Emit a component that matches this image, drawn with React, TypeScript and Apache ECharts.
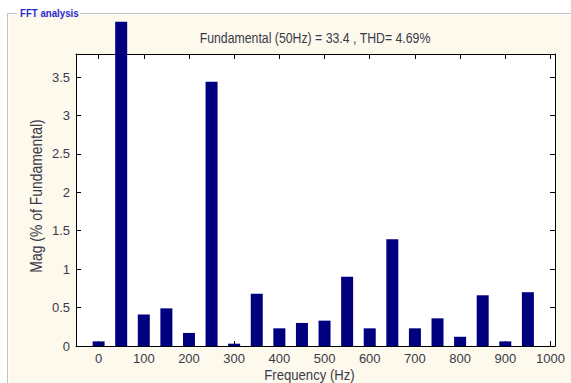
import React, { useEffect, useRef } from "react";
import * as echarts from "echarts";

const frequencies = [0, 50, 100, 150, 200, 250, 300, 350, 400, 450, 500, 550, 600, 650, 700, 750, 800, 850, 900, 950];
const magnitudes = [0.06, 4.22, 0.41, 0.49, 0.17, 3.44, 0.03, 0.68, 0.23, 0.30, 0.33, 0.90, 0.23, 1.39, 0.23, 0.36, 0.12, 0.66, 0.06, 0.70];
const xTicks = [0, 100, 200, 300, 400, 500, 600, 700, 800, 900, 1000];
const yTicks = [0, 0.5, 1, 1.5, 2, 2.5, 3, 3.5];
const titleText = "Fundamental (50Hz) = 33.4 , THD= 4.69%";
const panelTitle = "FFT analysis";
const xName = "Frequency (Hz)";
const yName = "Mag (% of Fundamental)";

export default function App() {
  const ref = useRef<HTMLDivElement>(null);
  useEffect(() => {
    if (!ref.current) return;
    const chart = echarts.init(ref.current, null, { renderer: "svg" });
    const font = "'Liberation Sans', Arial, sans-serif";
    const textColor = "#3a3a4a";
    const xAxisBase = {
      type: "value",
      min: -50,
      max: 1010,
      splitLine: { show: false },
      axisLine: { show: true, onZero: false, lineStyle: { color: "#000", width: 1 } },
      axisTick: { show: true, inside: true, length: 5, customValues: xTicks, lineStyle: { color: "#000" } },
    };
    const yAxisBase = {
      type: "value",
      min: 0,
      max: 3.8,
      splitLine: { show: false },
      axisLine: { show: true, onZero: false, lineStyle: { color: "#000", width: 1 } },
      axisTick: { show: true, inside: true, length: 5, customValues: yTicks, lineStyle: { color: "#000" } },
    };
    chart.setOption({
      animation: false,
      backgroundColor: "#ffffff",
      textStyle: { fontFamily: font },
      graphic: [
        { type: "rect", shape: { x: 7, y: 13, width: 564, height: 370 }, style: { fill: "#fdf9ec" }, z: -10 },
        { type: "line", shape: { x1: 7.5, y1: 13.5, x2: 7.5, y2: 383 }, style: { stroke: "#c4c4c4", lineWidth: 1 } },
        { type: "line", shape: { x1: 7.5, y1: 13.5, x2: 17, y2: 13.5 }, style: { stroke: "#c4c4c4", lineWidth: 1 } },
        { type: "line", shape: { x1: 80, y1: 13.5, x2: 571, y2: 13.5 }, style: { stroke: "#c4c4c4", lineWidth: 1 } },
        { type: "line", shape: { x1: 8.5, y1: 14.5, x2: 8.5, y2: 383 }, style: { stroke: "#ffffff", lineWidth: 1 } },
        { type: "line", shape: { x1: 80, y1: 14.5, x2: 571, y2: 14.5 }, style: { stroke: "#ffffff", lineWidth: 1 } },
        { type: "rect", shape: { x: 76, y: 54, width: 479, height: 292 }, style: { fill: "#ffffff" }, z: -5 },
        {
          type: "text",
          x: 20,
          y: 13,
          scaleX: 0.88,
          style: { text: panelTitle, fill: "#2a2ad0", font: "bold 11px " + font, verticalAlign: "middle" },
        },
        {
          type: "text",
          x: 315,
          y: 38,
          scaleX: 0.82,
          style: { text: titleText, fill: textColor, font: "15px " + font, align: "center", verticalAlign: "middle" },
        },
        {
          type: "text",
          x: 309.5,
          y: 375,
          scaleX: 0.875,
          style: { text: xName, fill: textColor, font: "15px " + font, align: "center", verticalAlign: "middle" },
        },
        {
          type: "text",
          x: 36,
          y: 196,
          rotation: Math.PI / 2,
          scaleX: 0.82,
          style: { text: yName, fill: textColor, font: "17px " + font, align: "center", verticalAlign: "middle" },
        },
      ],
      grid: { left: 76, top: 54, width: 479, height: 292, containLabel: false, outerBoundsMode: "none" },
      xAxis: [
        {
          ...xAxisBase,
          position: "bottom",
          axisLabel: {
            show: true,
            customValues: xTicks,
            formatter: (v: number) => String(v),
            color: textColor,
            fontSize: 13,
            fontFamily: font,
            margin: 6,
          },
        },
        { ...xAxisBase, position: "top", axisLabel: { show: false } },
      ],
      yAxis: [
        {
          ...yAxisBase,
          position: "left",
          axisLabel: {
            show: true,
            customValues: yTicks,
            formatter: (v: number) => String(v),
            color: textColor,
            fontSize: 13,
            fontFamily: font,
            margin: 6,
          },
        },
        { ...yAxisBase, position: "right", axisLabel: { show: false } },
      ],
      series: [
        {
          type: "bar",
          xAxisIndex: 0,
          yAxisIndex: 0,
          data: frequencies.map((f, i) => [f, magnitudes[i]]),
          barWidth: 12,
          clip: false,
          itemStyle: { color: "#00007f" },
          z: 3,
        },
      ],
    });
    return () => chart.dispose();
  }, []);
  return <div ref={ref} style={{ position: "absolute", left: 0, top: 0, width: 571, height: 383 }} />;
}
